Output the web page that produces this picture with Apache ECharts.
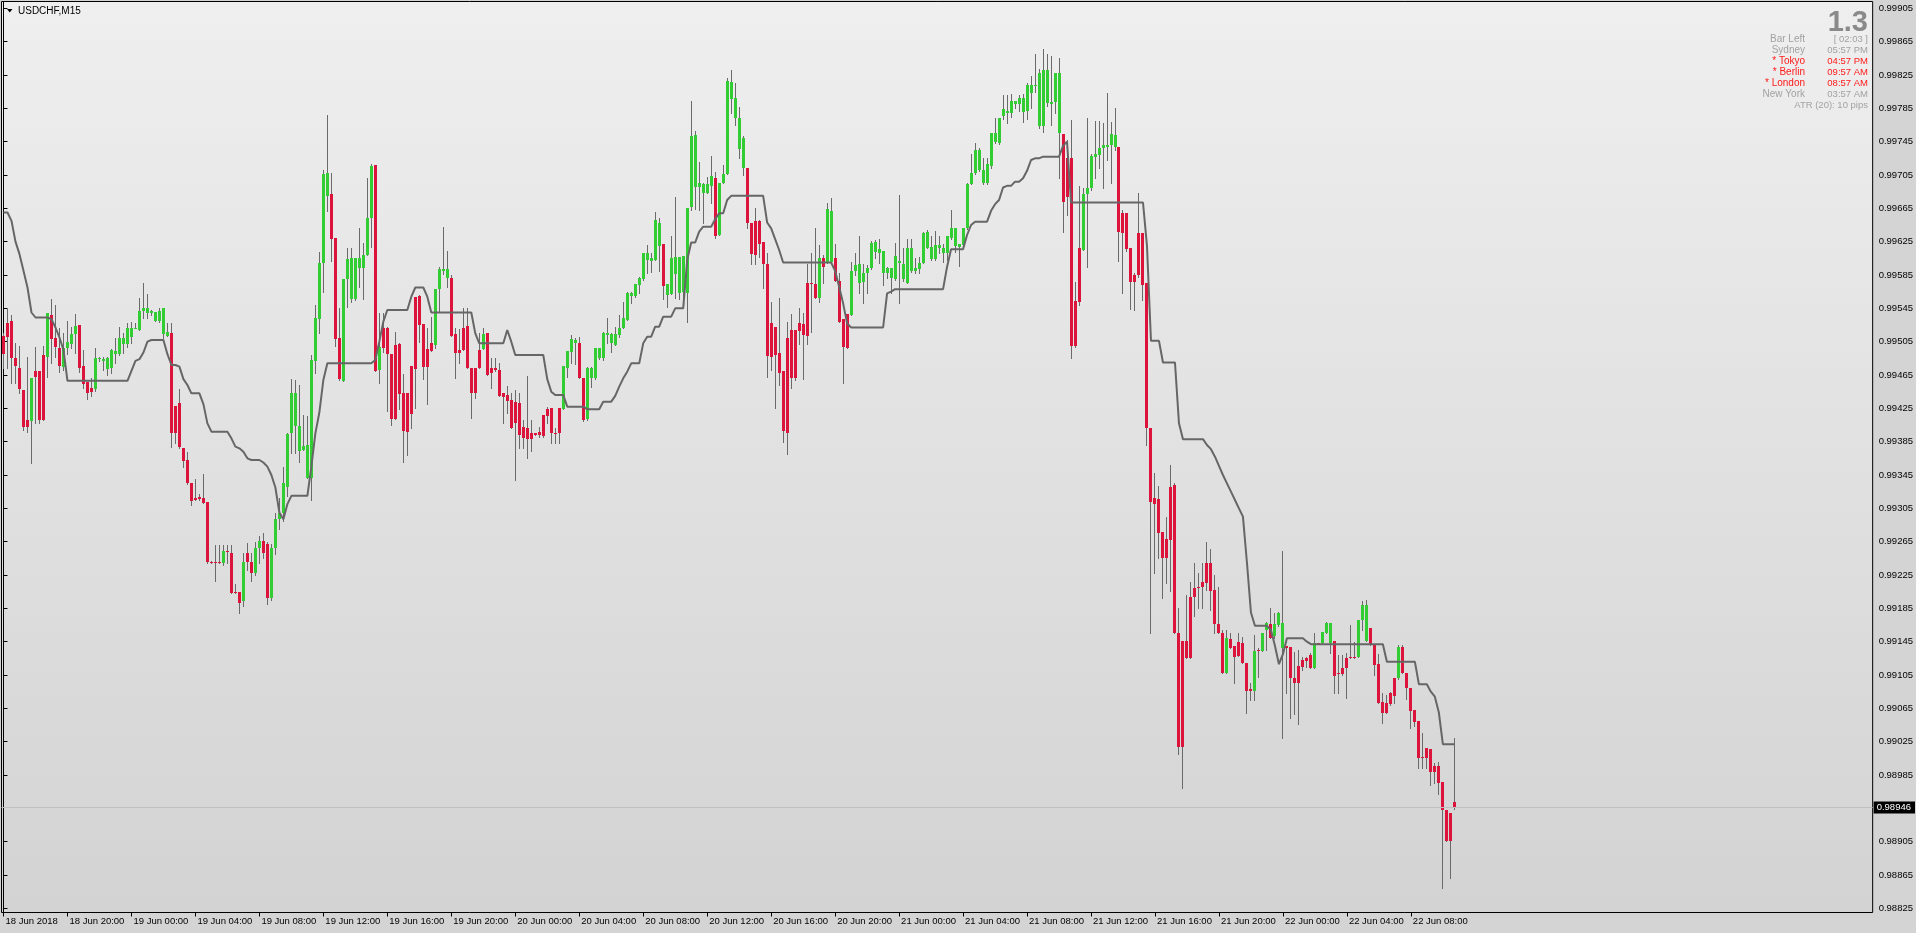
<!DOCTYPE html>
<html>
<head>
<meta charset="utf-8">
<script src="https://cdn.jsdelivr.net/npm/echarts@6/dist/echarts.min.js"></script>
<style>
html,body{margin:0;padding:0;background:#d4d4d4;overflow:hidden;}
#c{width:1916px;height:933px;}
</style>
</head>
<body>
<div id="c"></div>
<script>
// ---------------- DATA ----------------
const symbolTitle = 'USDCHF,M15';
const lastPrice = 0.98946;

const xTickIndex = [0,16,32,48,64,80,96,112,128,144,160,176,192,208,224,240,256,272,288,304,320,336,352];
const xTickLabels = ['18 Jun 2018','18 Jun 20:00','19 Jun 00:00','19 Jun 04:00','19 Jun 08:00','19 Jun 12:00',
  '19 Jun 16:00','19 Jun 20:00','20 Jun 00:00','20 Jun 04:00','20 Jun 08:00','20 Jun 12:00','20 Jun 16:00',
  '20 Jun 20:00','21 Jun 00:00','21 Jun 04:00','21 Jun 08:00','21 Jun 12:00','21 Jun 16:00','21 Jun 20:00',
  '22 Jun 00:00','22 Jun 04:00','22 Jun 08:00'];
const yTickValues = [0.98825,0.98865,0.98905,0.98985,0.99025,0.99065,0.99105,0.99145,0.99185,0.99225,0.99265,
  0.99305,0.99345,0.99385,0.99425,0.99465,0.99505,0.99545,0.99585,0.99625,0.99665,0.99705,0.99745,0.99785,
  0.99825,0.99865,0.99905];

const opens = [
0.99512,0.99527,0.99530,0.99485,0.99473,0.99447,0.99411,0.99410,0.99470,0.99470,
0.99489,0.99487,0.99537,0.99509,0.99498,0.99475,0.99497,0.99502,0.99514,0.99525,
0.99476,0.99457,0.99449,0.99448,0.99484,0.99482,0.99472,0.99474,0.99490,0.99490,
0.99502,0.99502,0.99511,0.99521,0.99519,0.99542,0.99539,0.99539,0.99530,0.99530,
0.99514,0.99512,0.99515,0.99428,0.99431,0.99378,0.99363,0.99336,0.99318,0.99319,
0.99318,0.99313,0.99241,0.99241,0.99241,0.99239,0.99254,0.99252,0.99205,0.99205,
0.99194,0.99251,0.99241,0.99228,0.99258,0.99266,0.99262,0.99198,0.99258,0.99292,
0.99300,0.99331,0.99395,0.99404,0.99374,0.99375,0.99342,0.99342,0.99482,0.99532,
0.99599,0.99680,0.99682,0.99629,0.99509,0.99458,0.99580,0.99556,0.99556,0.99594,
0.99594,0.99609,0.99653,0.99717,0.99471,0.99521,0.99521,0.99490,0.99501,0.99502,
0.99444,0.99443,0.99476,0.99559,0.99560,0.99526,0.99496,0.99503,0.99501,0.99568,
0.99590,0.99581,0.99581,0.99514,0.99495,0.99522,0.99524,0.99473,0.99473,0.99495,
0.99496,0.99516,0.99473,0.99473,0.99471,0.99443,0.99441,0.99435,0.99433,0.99432,
0.99403,0.99401,0.99395,0.99396,0.99397,0.99417,0.99424,0.99425,0.99396,0.99425,
0.99424,0.99474,0.99493,0.99503,0.99503,0.99461,0.99412,0.99462,0.99461,0.99485,
0.99485,0.99513,0.99503,0.99501,0.99513,0.99521,0.99531,0.99560,0.99560,0.99573,
0.99580,0.99603,0.99602,0.99603,0.99620,0.99622,0.99561,0.99562,0.99586,0.99564,
0.99565,0.99564,0.99667,0.99691,0.99691,0.99684,0.99684,0.99692,0.99702,0.99633,
0.99695,0.99706,0.99796,0.99773,0.99736,0.99714,0.99714,0.99648,0.99650,0.99650,
0.99625,0.99598,0.99528,0.99523,0.99491,0.99470,0.99510,0.99519,0.99519,0.99527,
0.99526,0.99575,0.99575,0.99574,0.99558,0.99606,0.99601,0.99601,0.99605,0.99578,
0.99532,0.99538,0.99537,0.99590,0.99576,0.99577,0.99587,0.99593,0.99613,0.99612,
0.99588,0.99587,0.99581,0.99580,0.99599,0.99580,0.99576,0.99590,0.99590,0.99592,
0.99600,0.99618,0.99604,0.99604,0.99618,0.99611,0.99611,0.99629,0.99620,0.99619,
0.99621,0.99641,0.99694,0.99707,0.99711,0.99695,0.99695,0.99716,0.99745,0.99744,
0.99776,0.99779,0.99779,0.99790,0.99790,0.99781,0.99782,0.99803,0.99812,0.99764,
0.99764,0.99792,0.99790,0.99793,0.99755,0.99754,0.99725,0.99725,0.99554,0.99617,
0.99615,0.99682,0.99689,0.99727,0.99729,0.99738,0.99739,0.99741,0.99739,0.99739,
0.99659,0.99660,0.99617,0.99585,0.99635,0.99635,0.99575,0.99401,0.99317,0.99316,
0.99277,0.99268,0.99331,0.99333,0.99155,0.99146,0.99146,0.99199,0.99210,0.99211,
0.99217,0.99239,0.99239,0.99207,0.99166,0.99156,0.99108,0.99148,0.99140,0.99145,
0.99144,0.99119,0.99088,0.99086,0.99135,0.99134,0.99159,0.99166,0.99152,0.99165,
0.99138,0.99140,0.99139,0.99101,0.99116,0.99123,0.99126,0.99129,0.99114,0.99144,
0.99143,0.99156,0.99144,0.99146,0.99108,0.99114,0.99126,0.99127,0.99127,0.99127,
0.99171,0.99146,0.99162,0.99141,0.99118,0.99073,0.99071,0.99083,0.99102,0.99102,
0.99139,0.99107,0.99090,0.99063,0.99050,0.99007,0.99017,0.99016,0.98996,0.98996,
0.98977,0.98943,0.98939,0.98953];

const highs = [
0.99515,0.99544,0.99537,0.99503,0.99500,0.99447,0.99487,0.99461,0.99499,0.99470,
0.99500,0.99540,0.99556,0.99549,0.99521,0.99515,0.99530,0.99523,0.99538,0.99525,
0.99495,0.99457,0.99461,0.99497,0.99487,0.99487,0.99487,0.99496,0.99509,0.99523,
0.99515,0.99528,0.99529,0.99527,0.99557,0.99575,0.99562,0.99543,0.99541,0.99545,
0.99546,0.99527,0.99527,0.99428,0.99448,0.99378,0.99373,0.99336,0.99340,0.99322,
0.99346,0.99313,0.99242,0.99261,0.99261,0.99261,0.99261,0.99261,0.99214,0.99205,
0.99251,0.99263,0.99252,0.99265,0.99272,0.99276,0.99265,0.99262,0.99300,0.99318,
0.99355,0.99396,0.99460,0.99459,0.99453,0.99417,0.99416,0.99489,0.99549,0.99613,
0.99711,0.99777,0.99707,0.99629,0.99545,0.99580,0.99617,0.99617,0.99605,0.99641,
0.99623,0.99702,0.99718,0.99717,0.99539,0.99539,0.99523,0.99490,0.99517,0.99504,
0.99466,0.99443,0.99476,0.99559,0.99561,0.99526,0.99522,0.99535,0.99568,0.99595,
0.99643,0.99614,0.99585,0.99521,0.99520,0.99545,0.99545,0.99473,0.99473,0.99515,
0.99521,0.99516,0.99485,0.99485,0.99479,0.99443,0.99452,0.99443,0.99447,0.99443,
0.99411,0.99464,0.99411,0.99396,0.99403,0.99417,0.99427,0.99425,0.99401,0.99425,
0.99476,0.99494,0.99513,0.99510,0.99511,0.99461,0.99475,0.99475,0.99498,0.99498,
0.99517,0.99533,0.99515,0.99523,0.99537,0.99553,0.99565,0.99565,0.99574,0.99583,
0.99612,0.99621,0.99611,0.99661,0.99653,0.99622,0.99574,0.99632,0.99679,0.99607,
0.99608,0.99665,0.99794,0.99758,0.99721,0.99696,0.99703,0.99728,0.99709,0.99696,
0.99717,0.99821,0.99831,0.99815,0.99787,0.99752,0.99714,0.99648,0.99665,0.99651,
0.99625,0.99611,0.99553,0.99523,0.99558,0.99470,0.99529,0.99538,0.99519,0.99545,
0.99539,0.99598,0.99611,0.99641,0.99621,0.99609,0.99672,0.99677,0.99622,0.99587,
0.99532,0.99538,0.99601,0.99611,0.99632,0.99598,0.99597,0.99626,0.99627,0.99628,
0.99614,0.99595,0.99594,0.99624,0.99681,0.99617,0.99628,0.99628,0.99605,0.99607,
0.99637,0.99639,0.99632,0.99638,0.99632,0.99622,0.99632,0.99663,0.99641,0.99622,
0.99641,0.99695,0.99730,0.99744,0.99737,0.99726,0.99726,0.99755,0.99774,0.99774,
0.99801,0.99801,0.99802,0.99794,0.99801,0.99802,0.99816,0.99824,0.99850,0.99832,
0.99856,0.99850,0.99848,0.99827,0.99845,0.99754,0.99747,0.99771,0.99577,0.99692,
0.99690,0.99773,0.99730,0.99770,0.99770,0.99768,0.99803,0.99769,0.99785,0.99739,
0.99663,0.99660,0.99617,0.99588,0.99683,0.99635,0.99575,0.99401,0.99347,0.99332,
0.99277,0.99295,0.99357,0.99336,0.99186,0.99146,0.99201,0.99217,0.99240,0.99228,
0.99239,0.99265,0.99256,0.99225,0.99211,0.99159,0.99159,0.99155,0.99140,0.99156,
0.99151,0.99119,0.99096,0.99153,0.99137,0.99156,0.99169,0.99185,0.99180,0.99181,
0.99254,0.99140,0.99139,0.99133,0.99135,0.99127,0.99127,0.99131,0.99155,0.99144,
0.99157,0.99169,0.99168,0.99146,0.99129,0.99129,0.99132,0.99165,0.99145,0.99171,
0.99194,0.99195,0.99162,0.99141,0.99130,0.99084,0.99081,0.99085,0.99102,0.99141,
0.99141,0.99107,0.99090,0.99063,0.99050,0.99036,0.99017,0.99016,0.98999,0.99001,
0.98977,0.98943,0.98939,0.99029];

const lows = [
0.99473,0.99474,0.99455,0.99456,0.99443,0.99399,0.99397,0.99360,0.99407,0.99407,
0.99411,0.99463,0.99479,0.99487,0.99469,0.99471,0.99490,0.99497,0.99491,0.99469,
0.99449,0.99436,0.99440,0.99446,0.99482,0.99471,0.99465,0.99467,0.99479,0.99489,
0.99492,0.99499,0.99504,0.99521,0.99519,0.99534,0.99534,0.99537,0.99530,0.99529,
0.99509,0.99512,0.99379,0.99383,0.99377,0.99355,0.99334,0.99309,0.99315,0.99315,
0.99312,0.99239,0.99239,0.99218,0.99239,0.99237,0.99239,0.99203,0.99203,0.99180,
0.99188,0.99231,0.99218,0.99225,0.99240,0.99245,0.99190,0.99195,0.99250,0.99280,
0.99290,0.99320,0.99371,0.99371,0.99361,0.99375,0.99342,0.99315,0.99467,0.99515,
0.99565,0.99662,0.99602,0.99500,0.99459,0.99458,0.99547,0.99553,0.99555,0.99571,
0.99556,0.99609,0.99619,0.99470,0.99455,0.99493,0.99422,0.99405,0.99412,0.99424,
0.99361,0.99369,0.99401,0.99426,0.99505,0.99460,0.99430,0.99494,0.99498,0.99542,
0.99586,0.99571,0.99512,0.99462,0.99480,0.99495,0.99473,0.99414,0.99438,0.99473,
0.99496,0.99465,0.99449,0.99470,0.99440,0.99407,0.99419,0.99401,0.99339,0.99377,
0.99377,0.99366,0.99374,0.99393,0.99391,0.99391,0.99407,0.99383,0.99383,0.99384,
0.99424,0.99463,0.99479,0.99478,0.99461,0.99410,0.99411,0.99451,0.99460,0.99484,
0.99483,0.99503,0.99493,0.99501,0.99511,0.99521,0.99531,0.99551,0.99559,0.99563,
0.99579,0.99587,0.99589,0.99603,0.99590,0.99556,0.99547,0.99562,0.99558,0.99556,
0.99556,0.99529,0.99663,0.99664,0.99663,0.99647,0.99684,0.99671,0.99629,0.99633,
0.99695,0.99706,0.99780,0.99765,0.99725,0.99705,0.99641,0.99598,0.99598,0.99607,
0.99569,0.99463,0.99471,0.99425,0.99453,0.99385,0.99370,0.99449,0.99459,0.99502,
0.99460,0.99502,0.99517,0.99557,0.99553,0.99575,0.99599,0.99599,0.99578,0.99529,
0.99455,0.99498,0.99537,0.99585,0.99563,0.99552,0.99563,0.99592,0.99605,0.99599,
0.99573,0.99581,0.99563,0.99579,0.99551,0.99578,0.99575,0.99589,0.99588,0.99588,
0.99599,0.99617,0.99603,0.99603,0.99611,0.99601,0.99603,0.99628,0.99613,0.99596,
0.99619,0.99640,0.99694,0.99706,0.99710,0.99694,0.99694,0.99714,0.99744,0.99742,
0.99772,0.99767,0.99775,0.99786,0.99782,0.99769,0.99772,0.99786,0.99805,0.99761,
0.99757,0.99788,0.99765,0.99779,0.99701,0.99637,0.99657,0.99486,0.99499,0.99549,
0.99615,0.99595,0.99687,0.99701,0.99714,0.99690,0.99723,0.99696,0.99735,0.99602,
0.99564,0.99614,0.99544,0.99543,0.99583,0.99555,0.99381,0.99155,0.99227,0.99245,
0.99198,0.99215,0.99206,0.99155,0.99010,0.98970,0.99126,0.99125,0.99176,0.99186,
0.99185,0.99207,0.99183,0.99155,0.99156,0.99108,0.99108,0.99138,0.99096,0.99128,
0.99120,0.99060,0.99075,0.99075,0.99103,0.99134,0.99135,0.99150,0.99150,0.99164,
0.99030,0.99084,0.99054,0.99058,0.99046,0.99111,0.99115,0.99113,0.99113,0.99142,
0.99143,0.99155,0.99132,0.99084,0.99084,0.99105,0.99077,0.99125,0.99125,0.99127,
0.99159,0.99146,0.99141,0.99105,0.99072,0.99048,0.99059,0.99069,0.99072,0.99100,
0.99107,0.99076,0.99042,0.99044,0.98993,0.98993,0.98994,0.98973,0.98975,0.98962,
0.98850,0.98906,0.98861,0.98944];

const closes = [
0.99490,0.99511,0.99485,0.99476,0.99448,0.99403,0.99403,0.99461,0.99463,0.99411,
0.99411,0.99539,0.99508,0.99499,0.99476,0.99497,0.99505,0.99514,0.99524,0.99474,
0.99454,0.99444,0.99445,0.99485,0.99486,0.99484,0.99485,0.99495,0.99494,0.99509,
0.99509,0.99522,0.99522,0.99522,0.99542,0.99546,0.99545,0.99542,0.99541,0.99542,
0.99545,0.99517,0.99395,0.99395,0.99379,0.99362,0.99336,0.99314,0.99315,0.99316,
0.99312,0.99241,0.99240,0.99239,0.99239,0.99254,0.99253,0.99204,0.99203,0.99192,
0.99241,0.99241,0.99228,0.99258,0.99266,0.99252,0.99198,0.99258,0.99292,0.99300,
0.99335,0.99394,0.99443,0.99443,0.99404,0.99380,0.99381,0.99483,0.99533,0.99599,
0.99706,0.99708,0.99628,0.99508,0.99460,0.99580,0.99604,0.99605,0.99605,0.99605,
0.99609,0.99653,0.99716,0.99470,0.99499,0.99498,0.99490,0.99412,0.99412,0.99442,
0.99398,0.99397,0.99418,0.99472,0.99525,0.99475,0.99475,0.99494,0.99568,0.99592,
0.99592,0.99592,0.99512,0.99491,0.99491,0.99495,0.99473,0.99443,0.99444,0.99473,
0.99514,0.99465,0.99467,0.99471,0.99440,0.99439,0.99434,0.99401,0.99407,0.99393,
0.99389,0.99388,0.99388,0.99393,0.99393,0.99392,0.99416,0.99395,0.99395,0.99395,
0.99476,0.99494,0.99508,0.99507,0.99461,0.99411,0.99473,0.99473,0.99497,0.99497,
0.99515,0.99515,0.99514,0.99514,0.99521,0.99533,0.99563,0.99563,0.99574,0.99582,
0.99611,0.99611,0.99605,0.99651,0.99648,0.99572,0.99574,0.99605,0.99607,0.99607,
0.99608,0.99665,0.99752,0.99753,0.99696,0.99694,0.99694,0.99704,0.99632,0.99696,
0.99706,0.99818,0.99817,0.99798,0.99774,0.99750,0.99647,0.99610,0.99609,0.99622,
0.99598,0.99488,0.99487,0.99489,0.99468,0.99398,0.99395,0.99461,0.99461,0.99518,
0.99513,0.99512,0.99574,0.99557,0.99606,0.99595,0.99664,0.99662,0.99578,0.99529,
0.99499,0.99498,0.99590,0.99597,0.99598,0.99587,0.99594,0.99623,0.99625,0.99616,
0.99614,0.99594,0.99594,0.99608,0.99602,0.99598,0.99617,0.99617,0.99594,0.99599,
0.99636,0.99637,0.99619,0.99621,0.99621,0.99618,0.99632,0.99641,0.99641,0.99622,
0.99641,0.99694,0.99707,0.99735,0.99735,0.99711,0.99718,0.99755,0.99755,0.99774,
0.99784,0.99782,0.99794,0.99794,0.99797,0.99797,0.99813,0.99813,0.99813,0.99827,
0.99831,0.99831,0.99793,0.99827,0.99827,0.99673,0.99679,0.99500,0.99500,0.99553,
0.99682,0.99690,0.99728,0.99730,0.99738,0.99741,0.99741,0.99754,0.99753,0.99637,
0.99635,0.99616,0.99577,0.99577,0.99585,0.99573,0.99401,0.99313,0.99310,0.99276,
0.99245,0.99245,0.99267,0.99155,0.99019,0.99019,0.99126,0.99126,0.99199,0.99210,
0.99211,0.99216,0.99206,0.99166,0.99156,0.99108,0.99149,0.99138,0.99127,0.99128,
0.99120,0.99086,0.99086,0.99134,0.99134,0.99156,0.99168,0.99150,0.99166,0.99179,
0.99168,0.99138,0.99102,0.99095,0.99096,0.99115,0.99122,0.99114,0.99144,0.99143,
0.99157,0.99168,0.99168,0.99104,0.99106,0.99106,0.99113,0.99126,0.99126,0.99171,
0.99189,0.99189,0.99141,0.99117,0.99072,0.99060,0.99060,0.99070,0.99080,0.99139,
0.99107,0.99090,0.99062,0.99049,0.99006,0.99006,0.99005,0.98989,0.98989,0.98975,
0.98943,0.98906,0.98906,0.98946];

// stepped trailing-stop style indicator line
const trailLine = [
0.99660,0.99660,0.99650,0.99625,0.99610,0.99590,0.99570,0.99540,0.99534,0.99534,
0.99534,0.99534,0.99532,0.99522,0.99510,0.99495,0.99458,0.99458,0.99458,0.99458,
0.99458,0.99458,0.99458,0.99458,0.99458,0.99458,0.99458,0.99458,0.99458,0.99458,
0.99458,0.99458,0.99470,0.99482,0.99484,0.99492,0.99505,0.99507,0.99507,0.99507,
0.99507,0.99490,0.99477,0.99477,0.99475,0.99460,0.99453,0.99443,0.99443,0.99443,
0.99430,0.99407,0.99397,0.99397,0.99397,0.99397,0.99397,0.99389,0.99379,0.99377,
0.99373,0.99365,0.99363,0.99363,0.99363,0.99360,0.99355,0.99345,0.99330,0.99300,
0.99292,0.99310,0.99320,0.99320,0.99320,0.99320,0.99320,0.99355,0.99395,0.99420,
0.99459,0.99479,0.99479,0.99479,0.99479,0.99479,0.99479,0.99479,0.99479,0.99479,
0.99479,0.99479,0.99479,0.99483,0.99505,0.99529,0.99543,0.99543,0.99543,0.99543,
0.99543,0.99543,0.99559,0.99570,0.99570,0.99570,0.99559,0.99540,0.99540,0.99540,
0.99540,0.99540,0.99540,0.99540,0.99540,0.99540,0.99540,0.99540,0.99515,0.99503,
0.99503,0.99503,0.99503,0.99503,0.99503,0.99503,0.99519,0.99505,0.99489,0.99489,
0.99489,0.99489,0.99489,0.99489,0.99489,0.99489,0.99460,0.99445,0.99441,0.99441,
0.99441,0.99427,0.99427,0.99427,0.99427,0.99427,0.99424,0.99424,0.99424,0.99424,
0.99433,0.99433,0.99433,0.99440,0.99451,0.99461,0.99469,0.99479,0.99479,0.99479,
0.99503,0.99511,0.99511,0.99523,0.99523,0.99535,0.99535,0.99535,0.99545,0.99545,
0.99545,0.99603,0.99624,0.99624,0.99637,0.99643,0.99643,0.99643,0.99652,0.99659,
0.99659,0.99675,0.99680,0.99680,0.99680,0.99680,0.99680,0.99680,0.99680,0.99680,
0.99680,0.99648,0.99641,0.99628,0.99615,0.99600,0.99600,0.99600,0.99600,0.99600,
0.99600,0.99600,0.99600,0.99600,0.99600,0.99600,0.99600,0.99600,0.99590,0.99571,
0.99551,0.99527,0.99522,0.99522,0.99522,0.99522,0.99522,0.99522,0.99522,0.99522,
0.99522,0.99563,0.99565,0.99568,0.99568,0.99568,0.99568,0.99568,0.99568,0.99568,
0.99568,0.99568,0.99568,0.99568,0.99568,0.99568,0.99595,0.99616,0.99616,0.99616,
0.99616,0.99633,0.99645,0.99649,0.99649,0.99649,0.99649,0.99662,0.99670,0.99675,
0.99690,0.99692,0.99692,0.99697,0.99697,0.99701,0.99710,0.99723,0.99725,0.99725,
0.99727,0.99727,0.99727,0.99727,0.99727,0.99740,0.99745,0.99672,0.99672,0.99672,
0.99672,0.99672,0.99672,0.99672,0.99672,0.99672,0.99672,0.99672,0.99672,0.99672,
0.99672,0.99672,0.99672,0.99672,0.99672,0.99672,0.99620,0.99506,0.99506,0.99506,
0.99480,0.99480,0.99480,0.99480,0.99407,0.99388,0.99388,0.99388,0.99388,0.99388,
0.99388,0.99381,0.99376,0.99367,0.99356,0.99345,0.99335,0.99325,0.99315,0.99305,
0.99295,0.99240,0.99180,0.99164,0.99164,0.99164,0.99164,0.99159,0.99140,0.99118,
0.99130,0.99149,0.99149,0.99149,0.99149,0.99149,0.99145,0.99142,0.99142,0.99142,
0.99142,0.99142,0.99142,0.99142,0.99142,0.99142,0.99142,0.99142,0.99142,0.99142,
0.99142,0.99142,0.99142,0.99142,0.99142,0.99142,0.99121,0.99121,0.99121,0.99121,
0.99121,0.99121,0.99121,0.99121,0.99094,0.99094,0.99094,0.99085,0.99079,0.99060,
0.99022,0.99022,0.99022,0.99022];

// info panel (top right)
const bigValue = '1.3';
const infoLabels = ['Bar Left','Sydney','* Tokyo','* Berlin','* London','New York'];
const infoValues = ['[ 02:03 ]','05:57 PM','04:57 PM','09:57 AM','08:57 AM','03:57 AM'];
const infoActive = [false,false,true,true,true,false];
const atrText = 'ATR (20): 10 pips';

// ---------------- CHART ----------------
const FONT = "'Liberation Sans', Arial, sans-serif";
const GREEN = '#32cd32', RED = '#dc143c', WICK = '#6a6a6a', LINE = '#666666';
const SLOTS = 468; // visible bar slots across the plot (chart shift area on the right)

const candleData = opens.map((o, i) => [i, o, closes[i], lows[i], highs[i]]);
const lineData = trailLine.map((v, i) => [i, v]);

const chart = echarts.init(document.getElementById('c'), null, {renderer: 'canvas'});

const graphics = [
  {type: 'polygon', shape: {points: [[7, 9], [12.5, 9], [9.75, 12.5]]}, style: {fill: '#000'}, z: 100},
  {type: 'text', x: 18, y: 11, style: {text: symbolTitle, fill: '#000', font: '10px ' + FONT, textVerticalAlign: 'middle'}, z: 100},
  {type: 'text', x: 1868, y: 8, style: {text: bigValue, fill: '#8a8a8a', font: 'bold 29px ' + FONT, textAlign: 'right', textVerticalAlign: 'top'}, z: 100}
];
const rowY = [39, 50, 61, 72, 83, 94];
infoLabels.forEach((lab, k) => {
  const col = infoActive[k] ? '#ff1a1a' : '#a2a2a2';
  graphics.push({type: 'text', x: 1805, y: rowY[k], style: {text: lab, fill: col, font: '10px ' + FONT, textAlign: 'right', textVerticalAlign: 'middle'}, z: 100});
  graphics.push({type: 'text', x: 1868, y: rowY[k], style: {text: infoValues[k], fill: col, font: '9.5px ' + FONT, textAlign: 'right', textVerticalAlign: 'middle'}, z: 100});
});
graphics.push({type: 'text', x: 1868, y: 105, style: {text: atrText, fill: '#a2a2a2', font: '9.5px ' + FONT, textAlign: 'right', textVerticalAlign: 'middle'}, z: 100});

const option = {
  animation: false,
  backgroundColor: '#d4d4d4',
  grid: {
    left: 1.5, top: 1.5, width: 1872, height: 911,
    show: true, borderColor: '#000', borderWidth: 1,
    backgroundColor: {type: 'linear', x: 0, y: 0, x2: 0, y2: 1,
      colorStops: [{offset: 0, color: '#efefef'}, {offset: 1, color: '#d3d3d3'}]}
  },
  xAxis: {
    type: 'value', min: -0.5, max: SLOTS - 0.5,
    axisLine: {show: false},
    splitLine: {show: false},
    axisTick: {show: true, customValues: xTickIndex, length: 4, lineStyle: {color: '#000'}},
    axisLabel: {
      customValues: xTickIndex,
      formatter: v => xTickLabels[xTickIndex.indexOf(Math.round(v))],
      align: 'left', margin: 4, padding: [0, 0, 0, 2],
      color: '#000', fontFamily: FONT, fontSize: 9.5
    }
  },
  yAxis: {
    type: 'value', position: 'right', min: 0.98820, max: 0.999132, scale: true,
    axisLine: {show: true, lineStyle: {color: '#000'}},
    splitLine: {show: false},
    axisTick: {show: true, customValues: yTickValues, length: 4, lineStyle: {color: '#000'}},
    axisLabel: {
      customValues: yTickValues,
      formatter: v => v.toFixed(5),
      margin: 6, color: '#000', fontFamily: FONT, fontSize: 9.5
    }
  },
  series: [
    {
      type: 'custom',
      name: 'candles',
      data: candleData,
      encode: {x: 0, y: [1, 2, 3, 4]},
      clip: true,
      z: 3,
      renderItem: function (params, api) {
        const i = api.value(0);
        const o = api.value(1), c = api.value(2), l = api.value(3), h = api.value(4);
        const pO = api.coord([i, o]), pC = api.coord([i, c]);
        const pL = api.coord([i, l]), pH = api.coord([i, h]);
        const cx = Math.round(pO[0] - 0.5) + 0.5;
        const top = Math.round(Math.min(pO[1], pC[1]));
        const bot = Math.round(Math.max(pO[1], pC[1]));
        const bh = Math.max(1, bot - top);
        return {
          type: 'group',
          children: [
            {type: 'line', shape: {x1: cx, y1: Math.round(pH[1]), x2: cx, y2: Math.round(pL[1]) + 1},
              style: {stroke: WICK, lineWidth: 1}},
            {type: 'rect', shape: {x: cx - 1.5, y: top, width: 3, height: bh},
              style: {fill: c >= o ? GREEN : RED}}
          ]
        };
      }
    },
    {
      type: 'line',
      name: 'trail',
      data: lineData,
      showSymbol: false,
      symbol: 'none',
      z: 5,
      lineStyle: {color: LINE, width: 2},
      silent: true,
      markLine: {
        silent: true, symbol: 'none', animation: false, precision: 5,
        lineStyle: {color: '#c0c0c0', width: 1, type: 'solid'},
        label: {show: true, position: 'end', distance: 1, formatter: lastPrice.toFixed(5),
          color: '#fff', backgroundColor: '#000', padding: [1, 4, 1, 3], fontFamily: FONT, fontSize: 9.5},
        data: [{yAxis: lastPrice}]
      }
    }
  ],
  graphic: graphics
};
chart.setOption(option);
</script>
</body>
</html>
